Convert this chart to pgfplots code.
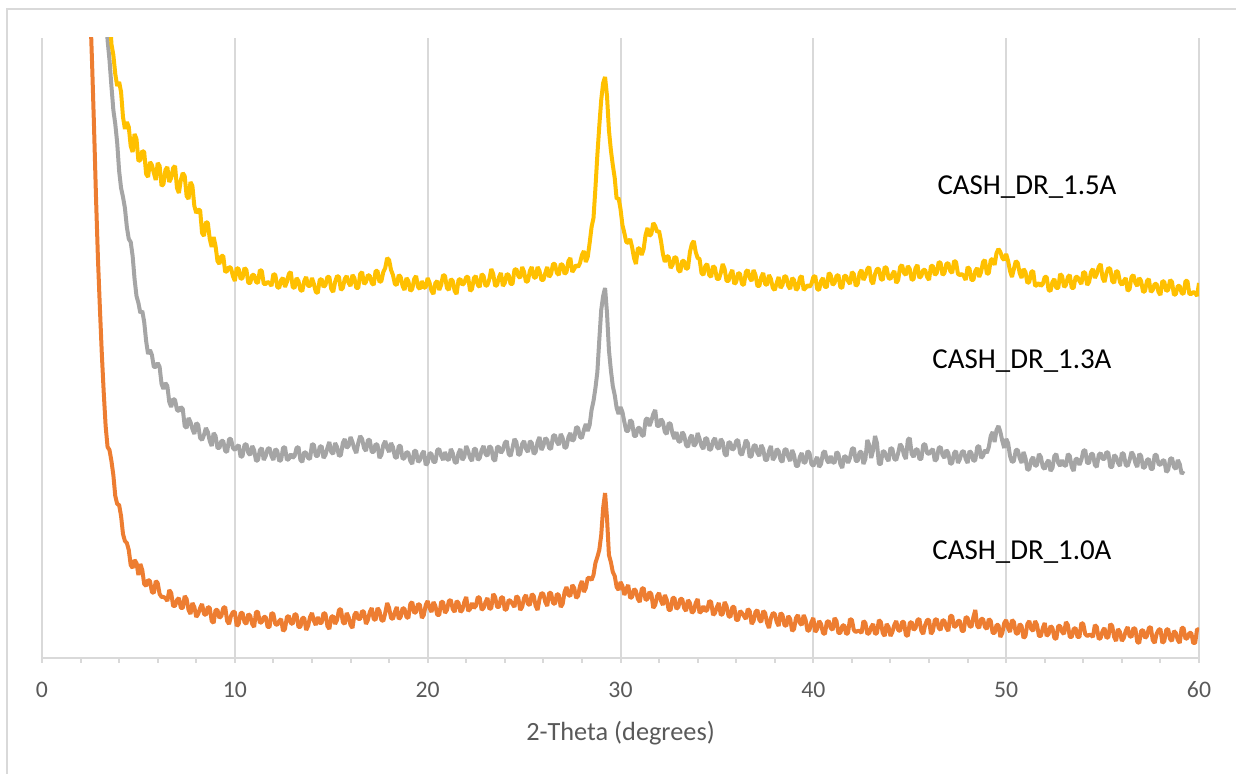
\documentclass[border=0pt]{standalone}
\usepackage{pgfplots}
\pgfplotsset{compat=1.18}
\usepackage{pgfplotstable}
\usepackage{fontspec}
\setmainfont{Carlito}
\definecolor{cO}{HTML}{ED7D31}
\definecolor{cG}{HTML}{A5A5A5}
\definecolor{cY}{HTML}{FFC000}
\definecolor{gridc}{HTML}{D9D9D9}
\definecolor{txt}{HTML}{595959}

\pgfplotstableread{
x o g y
2.4 700 nan nan
2.5 650 nan nan
2.6 593 nan nan
2.7 530 nan nan
2.8 461 nan nan
2.9 400 nan nan
3.0 351 nan nan
3.1 305 nan nan
3.2 266 700 nan
3.3 232 655 nan
3.4 211 618 700
3.5 208 598 650
3.6 197 572 614
3.7 183 548 603
3.8 162 534 584
3.9 154 515 572
4.0 153 487 576
4.1 142 470 566
4.2 124 461 541
4.3 117 450 529
4.4 115 431 536
4.5 108 419 531
4.6 93 416 512
4.7 90 402 506
4.8 98 379 524
4.9 95 362 519
5.0 83 355 497
5.1 94 345 498
5.2 88 347 507
5.3 74 336 506
5.4 72 317 484
5.5 78 304 481
5.6 77 308 496
5.7 66 303 493
5.8 65 291 485
5.9 77 291 478
6.0 75 295 495
6.1 64 291 492
6.2 61 274 472
6.3 61 269 474
6.4 60 275 488
6.5 57 272 491
6.6 68 256 476
6.7 65 251 480
6.8 52 259 490
6.9 52 258 492
7.0 58 248 470
7.1 60 247 465
7.2 50 251 478
7.3 50 249 485
7.4 62 232 482
7.5 59 230 462
7.6 48 240 459
7.7 44 236 476
7.8 55 229 472
7.9 51 224 452
8.0 41 235 445
8.1 44 233 448
8.2 50 220 448
8.3 54 218 425
8.4 44 223 422
8.5 43 230 436
8.6 51 226 435
8.7 50 217 419
8.8 37 212 411
8.9 35 225 421
9.0 48 222 412
9.1 48 210 397
9.2 40 210 394
9.3 42 217 402
9.4 50 217 402
9.5 51 207 386
9.6 37 206 387
9.7 34 219 391
9.8 42 219 390
9.9 46 210 382
10.0 46 208 377
10.1 32 211 390
10.2 34 213 389
10.3 45 201 379
10.4 45 202 380
10.5 36 213 390
10.6 34 214 388
10.7 44 205 375
10.8 42 203 375
10.9 34 212 383
11.0 31 208 383
11.1 46 197 376
11.2 46 198 375
11.3 35 208 388
11.4 36 210 387
11.5 41 198 374
11.6 41 202 374
11.7 31 209 376
11.8 31 210 375
11.9 45 202 372
12.0 44 198 384
12.1 34 209 383
12.2 33 207 371
12.3 37 197 370
12.4 39 198 378
12.5 27 210 380
12.6 29 211 371
12.7 41 198 376
12.8 42 199 384
12.9 35 204 386
13.0 34 200 371
13.1 44 202 370
13.2 43 210 380
13.3 31 211 377
13.4 31 198 368
13.5 40 196 367
13.6 40 206 377
13.7 28 205 381
13.8 32 200 372
13.9 41 199 372
14.0 45 214 380
14.1 37 213 374
14.2 33 202 366
14.3 41 202 365
14.4 35 211 378
14.5 35 212 379
14.6 45 200 371
14.7 44 203 373
14.8 32 210 381
14.9 29 216 381
15.0 41 206 369
15.1 42 204 366
15.2 34 215 376
15.3 38 211 382
15.4 48 202 381
15.5 49 203 368
15.6 36 215 370
15.7 34 219 379
15.8 45 210 382
15.9 41 212 375
16.0 33 221 372
16.1 30 216 383
16.2 43 209 380
16.3 46 205 370
16.4 39 215 370
16.5 39 222 384
16.6 47 219 386
16.7 46 210 374
16.8 34 207 376
16.9 38 218 383
17.0 46 218 382
17.1 50 206 375
17.2 39 206 373
17.3 38 214 387
17.4 50 213 387
17.5 47 200 376
17.6 38 203 377
17.7 37 213 386
17.8 45 217 390
17.9 55 210 400
18.0 50 206 398
18.1 40 215 388
18.2 39 211 383
18.3 46 201 374
18.4 51 200 373
18.5 39 212 383
18.6 41 212 381
18.7 50 199 372
18.8 49 200 368
18.9 41 206 380
19.0 40 205 377
19.1 54 197 367
19.2 56 194 369
19.3 45 207 379
19.4 46 207 382
19.5 54 196 371
19.6 53 198 369
19.7 40 204 377
19.8 43 207 370
19.9 53 193 371
20.0 57 195 380
20.1 50 205 375
20.2 46 204 367
20.3 56 196 364
20.4 52 196 375
20.5 43 208 377
20.6 43 209 368
20.7 56 202 373
20.8 56 198 383
20.9 45 206 382
21.0 48 199 370
21.1 57 198 368
21.2 58 209 379
21.3 49 205 377
21.4 46 196 367
21.5 57 195 364
21.6 55 205 378
21.7 46 209 379
21.8 48 198 373
21.9 56 201 375
22.0 61 212 381
22.1 47 207 381
22.2 49 200 367
22.3 55 197 369
22.4 50 209 380
22.5 52 209 382
22.6 61 198 373
22.7 60 200 371
22.8 48 208 384
22.9 50 212 382
23.0 56 204 372
23.1 60 202 373
23.2 49 212 379
23.3 50 210 389
23.4 64 199 384
23.5 61 197 372
23.6 51 211 373
23.7 51 211 381
23.8 60 205 385
23.9 61 208 372
24.0 48 215 375
24.1 49 217 384
24.2 58 204 383
24.3 57 202 374
24.4 54 210 374
24.5 51 219 388
24.6 62 216 389
24.7 60 203 382
24.8 48 204 380
24.9 51 214 391
25.0 60 217 386
25.1 63 209 376
25.2 54 206 377
25.3 53 217 387
25.4 64 215 391
25.5 62 204 381
25.6 52 206 380
25.7 48 216 391
25.8 59 221 387
25.9 65 208 378
26.0 64 212 378
26.1 56 220 385
26.2 52 218 391
26.3 65 210 381
26.4 65 209 384
26.5 55 222 394
26.6 54 223 394
26.7 64 216 385
26.8 63 213 383
26.9 51 224 394
27.0 54 220 393
27.1 66 210 384
27.2 71 211 386
27.3 63 221 397
27.4 62 225 400
27.5 73 217 386
27.6 70 219 389
27.7 60 231 393
27.8 62 230 391
27.9 72 221 395
28.0 77 220 403
28.1 66 228 407
28.2 70 234 396
28.3 80 227 401
28.4 80 233 415
28.5 78 248 431
28.6 83 257 440
28.7 95 270 470
28.8 101 286 503
28.9 108 318 532
29.0 123 348 558
29.1 150 362 575
29.2 165 370 581
29.3 140 345 562
29.4 103 308 528
29.5 96 288 508
29.6 86 272 493
29.7 82 263 480
29.8 71 250 459
29.9 68 244 460
30.0 76 251 449
30.1 72 246 433
30.2 63 236 425
30.3 69 227 416
30.4 73 227 415
30.5 60 238 419
30.6 61 236 411
30.7 69 222 400
30.8 67 222 394
30.9 59 230 410
31.0 56 230 409
31.1 69 223 403
31.2 70 222 409
31.3 58 238 423
31.4 59 240 430
31.5 66 232 422
31.6 64 237 424
31.7 50 244 435
31.8 53 248 432
31.9 62 232 426
32.0 65 232 427
32.1 57 239 417
32.2 53 236 404
32.3 63 226 396
32.4 58 224 402
32.5 48 235 401
32.6 48 234 390
32.7 60 224 393
32.8 60 219 401
32.9 49 226 400
33.0 51 217 388
33.1 59 216 386
33.2 59 226 397
33.3 50 223 397
33.4 47 213 389
33.5 58 211 390
33.6 55 220 406
33.7 45 223 414
33.8 47 212 417
33.9 55 214 406
34.0 59 225 400
34.1 45 219 399
34.2 47 212 385
34.3 52 209 383
34.4 47 220 392
34.5 48 219 394
34.6 57 208 383
34.7 56 209 381
34.8 43 217 392
34.9 45 220 390
35.0 51 211 379
35.1 55 209 379
35.2 43 219 385
35.3 44 216 394
35.4 56 204 389
35.5 52 202 377
35.6 42 216 377
35.7 41 215 384
35.8 51 208 388
35.9 51 210 374
36.0 38 217 376
36.1 38 218 385
36.2 47 205 384
36.3 45 203 374
36.4 42 210 373
36.5 39 218 386
36.6 49 215 388
36.7 47 201 380
36.8 34 202 377
36.9 37 212 388
37.0 46 213 383
37.1 48 205 372
37.2 38 202 372
37.3 36 213 381
37.4 47 209 385
37.5 45 198 374
37.6 35 198 373
37.7 30 207 383
37.8 40 212 379
37.9 45 198 370
38.0 44 201 368
38.1 36 209 375
38.2 32 207 381
38.3 45 198 370
38.4 43 196 373
38.5 33 208 382
38.6 32 209 381
38.7 42 201 372
38.8 39 197 369
38.9 27 208 380
39.0 29 203 378
39.1 40 192 368
39.2 43 192 370
39.3 35 201 380
39.4 33 205 382
39.5 43 195 368
39.6 38 196 370
39.7 27 207 373
39.8 28 205 371
39.9 36 194 374
40.0 40 192 381
40.1 26 197 382
40.2 29 201 369
40.3 37 191 368
40.4 34 194 377
40.5 25 205 380
40.6 24 207 371
40.7 36 198 371
40.8 37 195 385
40.9 30 202 383
41.0 28 196 373
41.1 40 195 375
41.2 37 206 382
41.3 25 204 383
41.4 25 194 371
41.5 32 190 370
41.6 33 202 382
41.7 24 201 382
41.8 25 195 377
41.9 39 200 374
42.0 38 209 386
42.1 28 210 384
42.2 26 197 372
42.3 27 197 374
42.4 27 206 385
42.5 25 206 388
42.6 37 194 378
42.7 35 199 382
42.8 24 218 389
42.9 25 213 391
43.0 31 200 377
43.1 34 208 374
43.2 24 222 384
43.3 25 215 389
43.4 38 194 389
43.5 36 194 379
43.6 25 207 378
43.7 22 206 391
43.8 34 200 390
43.9 31 197 380
44.0 22 210 379
44.1 26 209 384
44.2 33 199 387
44.3 37 198 375
44.4 28 205 378
44.5 27 214 391
44.6 36 211 393
44.7 36 203 385
44.8 23 199 383
44.9 22 218 392
45.0 35 220 389
45.1 36 204 378
45.2 28 201 379
45.3 30 208 390
45.4 38 209 393
45.5 39 199 380
45.6 27 199 382
45.7 24 213 388
45.8 33 214 388
45.9 38 205 381
46.0 38 204 378
46.1 24 207 392
46.2 27 209 392
46.3 38 197 383
46.4 39 199 385
46.5 30 210 396
46.6 28 211 395
46.7 38 203 383
46.8 37 200 385
46.9 30 208 394
47.0 27 205 395
47.1 42 194 387
47.2 42 195 385
47.3 31 205 397
47.4 32 207 396
47.5 37 195 384
47.6 37 199 383
47.7 27 206 384
47.8 27 207 382
47.9 41 199 378
48.0 40 195 391
48.1 32 207 389
48.2 31 205 378
48.3 41 197 378
48.4 48 198 387
48.5 32 211 390
48.6 30 212 381
48.7 39 200 386
48.8 39 202 396
48.9 31 208 398
49.0 29 205 384
49.1 39 211 385
49.2 37 222 398
49.3 25 226 399
49.4 25 216 393
49.5 33 228 405
49.6 33 232 409
49.7 21 226 406
49.8 25 217 400
49.9 35 210 398
50.0 38 219 404
50.1 30 215 397
50.2 26 202 387
50.3 38 196 381
50.4 36 197 389
50.5 25 208 397
50.6 24 208 395
50.7 34 200 385
50.8 32 195 380
50.9 20 206 389
51.0 22 200 386
51.1 34 188 375
51.2 37 189 376
51.3 29 198 386
51.4 27 201 387
51.5 37 192 372
51.6 33 193 373
51.7 22 204 375
51.8 22 201 372
51.9 30 191 374
52.0 35 189 381
52.1 22 195 381
52.2 24 198 368
52.3 32 187 367
52.4 30 190 376
52.5 20 202 379
52.6 19 204 370
52.7 32 195 370
52.8 32 192 384
52.9 26 198 382
53.0 24 193 371
53.1 36 192 373
53.2 33 204 381
53.3 21 202 383
53.4 21 191 370
53.5 29 187 370
53.6 30 199 381
53.7 21 199 381
53.8 21 193 377
53.9 35 198 374
54.0 34 207 386
54.1 24 208 385
54.2 22 195 373
54.3 23 195 376
54.4 23 204 386
54.5 21 204 389
54.6 33 193 380
54.7 31 191 384
54.8 19 203 391
54.9 20 205 394
55.0 27 199 380
55.1 30 199 376
55.2 20 206 385
55.3 21 205 390
55.4 34 191 389
55.5 32 191 377
55.6 21 203 375
55.7 17 201 387
55.8 29 195 386
55.9 26 192 376
56.0 17 205 373
56.1 20 204 377
56.2 27 193 380
56.3 31 192 367
56.4 22 198 369
56.5 21 206 381
56.6 30 203 383
56.7 29 195 375
56.8 16 191 372
56.9 15 204 380
57.0 27 202 377
57.1 28 190 366
57.2 20 191 367
57.3 22 198 377
57.4 30 199 379
57.5 31 189 366
57.6 18 189 368
57.7 15 203 374
57.8 24 203 374
57.9 28 194 366
58.0 29 193 363
58.1 15 197 377
58.2 17 198 376
58.3 28 186 367
58.4 29 188 368
58.5 19 199 378
58.6 17 200 376
58.7 27 191 363
58.8 25 189 364
58.9 18 198 372
59.0 15 194 372
59.1 30 184 365
59.2 30 187 364
59.3 19 nan 377
59.4 20 nan 377
59.5 25 nan 364
59.6 25 nan 364
59.7 15 nan 366
59.8 15 nan 365
59.9 29 nan 362
60.0 28 nan 375
}\data

\begin{document}
\begin{tikzpicture}[x=1pt,y=1pt]
\useasboundingbox (-21,-58) rectangle (597,329);
\draw[gridc, line width=0.75pt] (-17.5,-70) -- (-17.5,324.5) -- (610,324.5);
\begin{axis}[
  at={(0,0)}, anchor=south west,
  scale only axis, width=578.5pt, height=310pt,
  xmin=0, xmax=60, ymin=0, ymax=620,
  axis x line*=bottom, axis y line=none,
  axis line style={gridc, line width=1pt},
  xtick={0,10,...,60}, minor x tick num=4,
  ytick=\empty,
  xtick align=outside,
  major tick length=2.5pt, minor tick length=2.5pt,
  every tick/.style={gridc, line width=1pt},
  xmajorgrids, grid style={gridc, line width=1pt},
  /pgf/number format/assume math mode=true,
  xticklabel style={font=\fontsize{11.85}{14}\selectfont, text=txt, anchor=center, yshift=-13.5pt},
  xlabel={2-Theta (degrees)},
  xlabel style={font=\fontsize{13.15}{15}\selectfont, text=txt, at={(axis description cs:0.5,-0.121)}, anchor=center},
  no markers,
  clip=true,
]
\addplot[cO, line width=2pt, line join=bevel] table[x=x,y=o]{\data};
\addplot[cG, line width=2pt, line join=bevel] table[x=x,y=g]{\data};
\addplot[cY, line width=2pt, line join=bevel] table[x=x,y=y]{\data};
\node[font=\fontsize{14.45}{17}\selectfont, text=black] at (axis cs:51.08,471) {CASH\_DR\_1.5A};
\node[font=\fontsize{14.45}{17}\selectfont, text=black] at (axis cs:50.82,297) {CASH\_DR\_1.3A};
\node[font=\fontsize{14.45}{17}\selectfont, text=black] at (axis cs:50.82,106) {CASH\_DR\_1.0A};
\end{axis}
\end{tikzpicture}
\end{document}
